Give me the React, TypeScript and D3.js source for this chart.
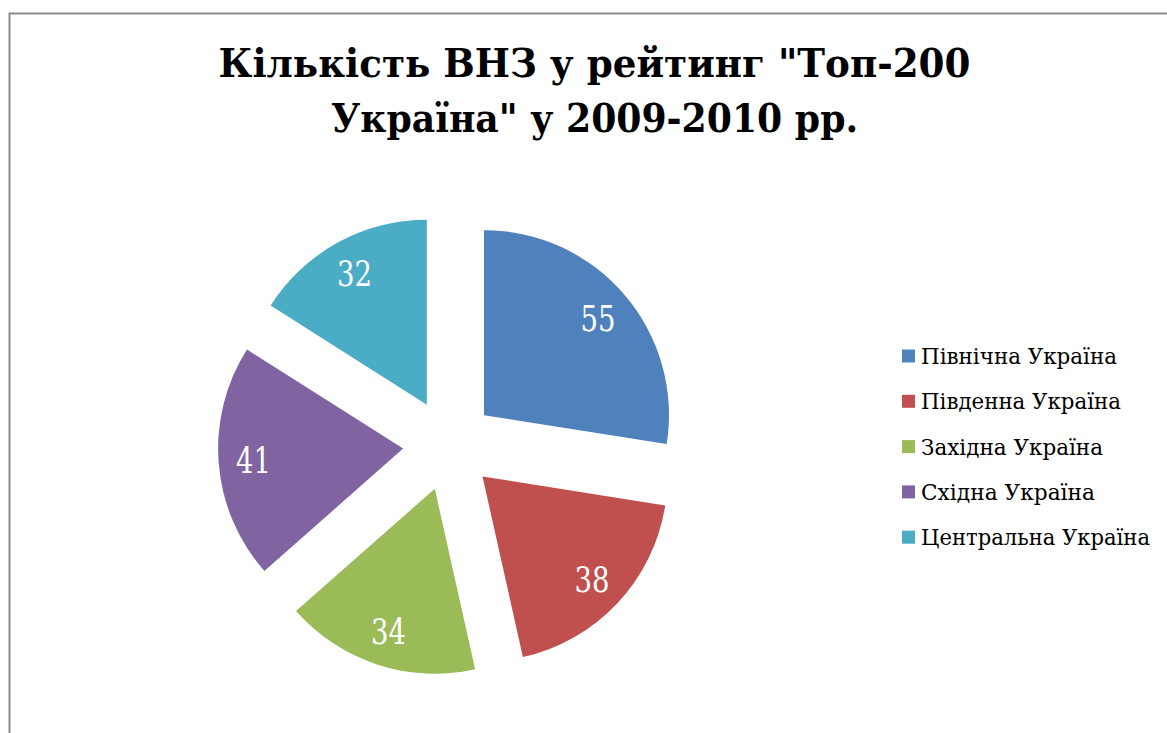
import React from "react";
import * as d3 from "d3";

const categories = ["Північна Україна", "Південна Україна", "Західна Україна", "Східна Україна", "Центральна Україна"];
const values = [55, 38, 34, 41, 32];
const colors = ["#4F81BD", "#C0504D", "#9BBB59", "#8064A2", "#4BACC6"];
const titleLines = ["Кількість ВНЗ у рейтинг \"Топ-200", "Україна\" у 2009-2010 рр."];
// measured text extents in the reference (serif font substitute is compressed to fit)
const titleWidths = [752, 527];
const legendWidths = [196, 200, 182, 174, 229];

export default function App() {
  const W = 1167, H = 733;
  const cx = 449, cy = 445, r = 185, explode = 46, labelR = 150;
  const pie = d3.pie<number>().sort(null).value((d) => d);
  const arcs = pie(values);
  const arc = d3.arc<d3.PieArcDatum<number>>().innerRadius(0).outerRadius(r);
  const font = "DejaVu Serif, serif";
  return (
    <svg width={W} height={H} style={{ position: "absolute", left: 0, top: 0, background: "#fff" }}>
      <rect x={9.5} y={13.5} width={W + 20} height={H + 20} fill="#fff" stroke="#8a8a8a" strokeWidth={2} />
      <g style={{ fontFamily: font, fontWeight: "bold", fontSize: "40px" }} textAnchor="middle" fill="#000">
        {titleLines.map((t, i) => (
          <text key={i} x={594.5} y={77 + i * 55} textLength={titleWidths[i]} lengthAdjust="spacingAndGlyphs">{t}</text>
        ))}
      </g>
      {arcs.map((a, i) => {
        const mid = (a.startAngle + a.endAngle) / 2;
        const ox = cx + explode * Math.sin(mid);
        const oy = cy - explode * Math.cos(mid);
        const lx = labelR * Math.sin(mid);
        const ly = -labelR * Math.cos(mid);
        return (
          <g key={i} transform={`translate(${ox},${oy})`}>
            <path d={arc(a) || ""} fill={colors[i]} />
            <text x={lx} y={ly} dy="0.36em" textAnchor="middle" textLength={35} lengthAdjust="spacingAndGlyphs"
              style={{ fontFamily: font, fontSize: "36px" }} fill="#fff">
              {values[i]}
            </text>
          </g>
        );
      })}
      <g style={{ fontFamily: font, fontSize: "22px" }} fill="#000">
        {categories.map((c, i) => (
          <g key={i} transform={`translate(902,${356 + i * 45.3})`}>
            <rect x={0} y={-6.5} width={13} height={13} fill={colors[i]} />
            <text x={19} y={8} textLength={legendWidths[i]} lengthAdjust="spacingAndGlyphs">{c}</text>
          </g>
        ))}
      </g>
    </svg>
  );
}
